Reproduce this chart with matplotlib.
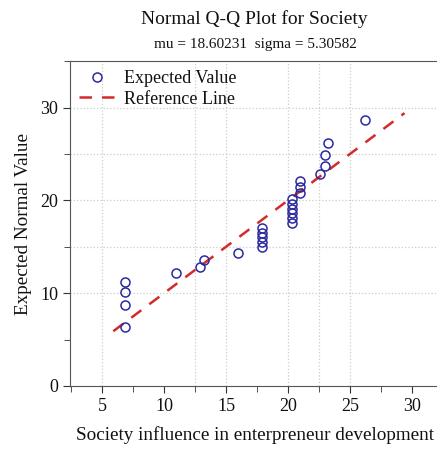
import matplotlib
matplotlib.use("Agg")
import matplotlib.pyplot as plt
from matplotlib.ticker import MultipleLocator

# --- Data ---
observed = [6.87, 6.87, 6.87, 6.87,
            11.0, 12.9, 13.2, 16.0,
            17.9, 17.9, 17.9, 17.9, 17.9,
            20.3, 20.3, 20.3, 20.3, 20.3, 20.3,
            21.0, 21.0, 21.0,
            22.6, 22.95, 22.95, 23.2, 26.2]
expected = [11.23, 10.15, 8.72, 6.32,
            12.13, 12.84, 13.56, 14.28,
            17.03, 16.5, 16.0, 15.46, 14.93,
            20.13, 19.59, 19.09, 18.59, 18.05, 17.51,
            22.1, 21.45, 20.74,
            22.82, 23.68, 24.87, 26.23, 28.7]
ref_line = [5.9, 29.4]

title = "Normal Q-Q Plot for Society"
subtitle = "mu = 18.60231  sigma = 5.30582"
x_label = "Society influence in enterpreneur development"
y_label = "Expected Normal Value"

plt.rcParams['font.family'] = ['Liberation Serif', 'DejaVu Serif']

fig = plt.figure(figsize=(4.37, 4.53), dpi=100)
ax = fig.add_axes([0.160, 0.148, 0.845, 0.717])

# grid lines as in the reference (dotted, light grey)
for gx in [5, 12.5, 15, 20, 22.5, 25]:
    ax.axvline(gx, color='#cccccc', linestyle=':', linewidth=0.9, zorder=0)
for gy in [10, 15, 20, 25, 30]:
    ax.axhline(gy, color='#cccccc', linestyle=':', linewidth=0.9, zorder=0)

ax.plot(ref_line, ref_line, linestyle=(0, (5, 4)), color='#d42a2a',
        linewidth=1.8, label='Reference Line', zorder=2)
ax.plot(observed, expected, linestyle='none', marker='o', markersize=6.5,
        markerfacecolor='none', markeredgecolor='#2a2a9e', markeredgewidth=1.1,
        label='Expected Value', zorder=3)

ax.set_xlim(2.4, 32.2)
ax.set_ylim(0, 35)
ax.xaxis.set_major_locator(MultipleLocator(5))
ax.xaxis.set_minor_locator(MultipleLocator(2.5))
ax.yaxis.set_major_locator(MultipleLocator(10))
ax.yaxis.set_minor_locator(MultipleLocator(5))
ax.tick_params(which='both', direction='out', colors='#333333', labelsize=13,
               labelcolor='#111111')
ax.tick_params(which='major', length=5)
ax.tick_params(which='minor', length=4)
for s in ['left', 'bottom', 'top']:
    ax.spines[s].set_color('#555555')
ax.spines['right'].set_visible(False)

ax.set_xlabel(x_label, fontsize=13.8, color='#111111', labelpad=8)
ax.set_ylabel(y_label, fontsize=13.8, color='#111111', labelpad=6)

handles, labels = ax.get_legend_handles_labels()
ax.legend(handles[::-1], labels[::-1], loc='upper left', frameon=False,
          fontsize=13, handlelength=2.0, handletextpad=0.5,
          borderaxespad=0.1, labelspacing=0.2, labelcolor='#111111')

fig.text(0.582, 0.958, title, ha='center', va='center', fontsize=14, color='#111111')
fig.text(0.584, 0.902, subtitle, ha='center', va='center', fontsize=11, color='#111111')

fig.savefig('out.png', dpi=100)
